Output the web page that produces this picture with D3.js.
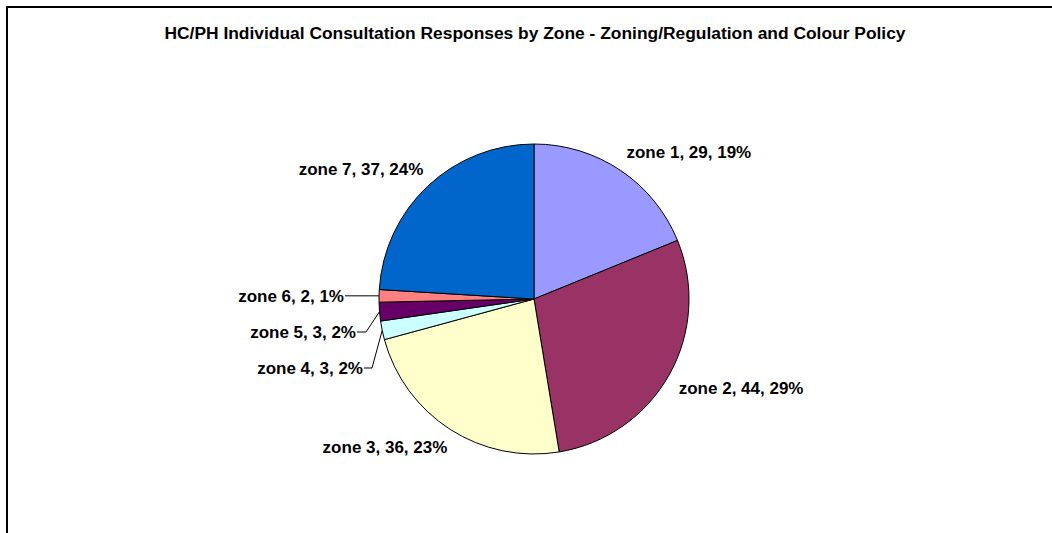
<!DOCTYPE html>
<html><head><meta charset="utf-8">
<script src="https://cdn.jsdelivr.net/npm/d3@7"></script>
<style>body{margin:0;background:#fff;}svg{display:block;font-family:"Liberation Sans",Arial,sans-serif;}</style>
</head><body>
<svg id="chart" width="1052" height="533"></svg>
<script>
const categories = ["zone 1","zone 2","zone 3","zone 4","zone 5","zone 6","zone 7"];
const values = [29,44,36,3,3,2,37];
const colors = ["#9999FF","#993366","#FFFFCC","#CCFFFF","#660066","#FF8080","#0066CC"];
const title = "HC/PH Individual Consultation Responses by Zone - Zoning/Regulation and Colour Policy";

const W = 1052, H = 533;
const cx = 534, cy = 299, R = 155;
const svg = d3.select("#chart");

svg.append("rect").attr("x",7).attr("y",7).attr("width",W+10).attr("height",H+10)
  .attr("fill","#fff").attr("stroke","#000").attr("stroke-width",2);

svg.append("text").attr("x",535).attr("y",39).attr("text-anchor","middle")
  .attr("font-size",17.4).attr("font-weight","bold").text(title);

const total = d3.sum(values);
const data = categories.map((c,i)=>({cat:c,val:values[i],col:colors[i]}));
const pie = d3.pie().value(d=>d.val).sort(null);
const arcs = pie(data);
const arc = d3.arc().innerRadius(0).outerRadius(R);

const g = svg.append("g").attr("transform",`translate(${cx},${cy})`);
g.selectAll("path").data(arcs).join("path")
  .attr("d",arc).attr("fill",d=>d.data.col)
  .attr("stroke","#000").attr("stroke-width",1);

const fmt = d => `${d.data.cat}, ${d.data.val}, ${Math.round(d.data.val/total*100)}%`;
const fs = 17;
// leader layout for thin slices
const leader = {3:{lx:-171,ly:69,ex:-162}, 4:{lx:-178,ly:33,ex:-168}, 5:{lx:-190,ly:-3,ex:null}};

arcs.forEach((d,i)=>{
  const a = (d.startAngle+d.endAngle)/2;
  const sx = Math.sin(a), sy = -Math.cos(a);
  if (leader[i]) {
    const L = leader[i];
    const px = sx*R, py = sy*R;
    const pts = L.ex===null ? [[px,py],[L.lx+1,py]] : [[px,py],[L.ex,L.ly],[L.lx+1,L.ly]];
    g.append("path").attr("d",d3.line()(pts)).attr("fill","none").attr("stroke","#000").attr("stroke-width",1);
    g.append("text").attr("x",L.lx).attr("y",L.ex===null?py:L.ly).attr("dy","0.35em")
      .attr("text-anchor","end").attr("font-size",fs).attr("font-weight","bold").text(fmt(d));
  } else {
    const r2 = R*1.07;
    const x = sx*r2 + (sx<0 ? 3 : 0), y = sy*r2;
    g.append("text").attr("x",x).attr("y",y)
      .attr("dy", sy<0 ? "-0.2em" : "0.85em")
      .attr("text-anchor", sx>=0 ? "start" : "end")
      .attr("font-size",fs).attr("font-weight","bold").text(fmt(d));
  }
});
</script>
</body></html>
